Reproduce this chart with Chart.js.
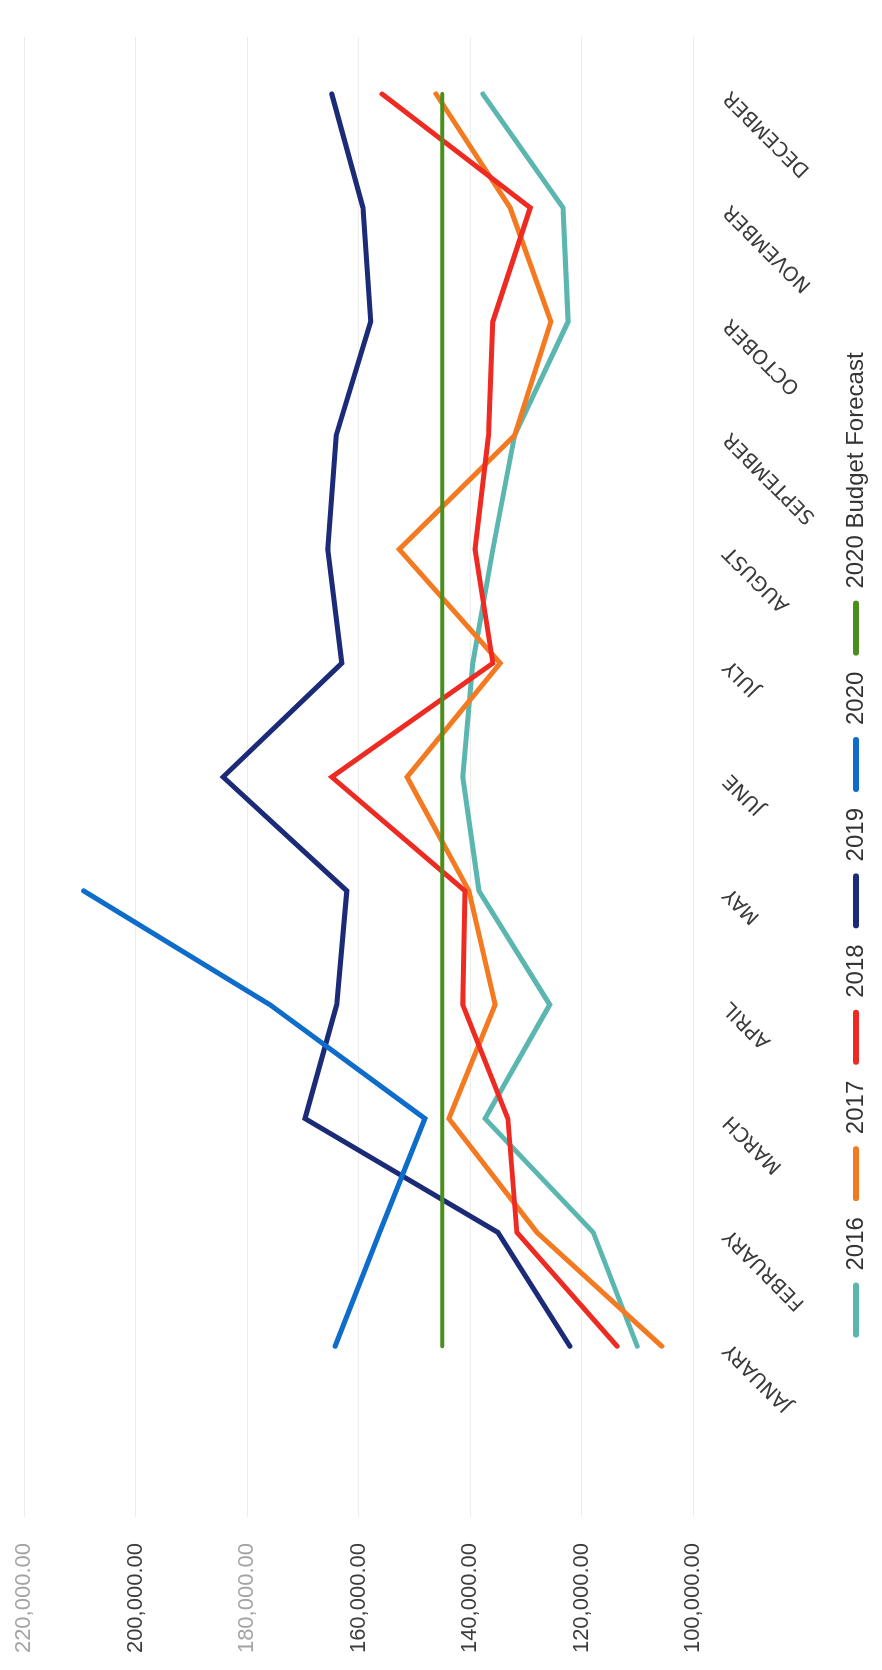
<!DOCTYPE html>
<html>
<head>
<meta charset="utf-8">
<script src="https://cdn.jsdelivr.net/npm/chart.js@4.4.1/dist/chart.umd.min.js"></script>
<style>
  html, body { margin: 0; padding: 0; background: #ffffff; overflow: hidden; }
  body { width: 882px; height: 1670px; position: relative; }
  #wrap {
    position: absolute; left: 0; top: 0;
    width: 1670px; height: 882px;
    transform-origin: 0 0;
    transform: translate(0px, 1670px) rotate(-90deg);
  }
  canvas { display: block; }
</style>
</head>
<body>
<div id="wrap"><canvas id="c" width="1670" height="882"></canvas></div>
<script>
const months = ["JANUARY","FEBRUARY","MARCH","APRIL","MAY","JUNE","JULY","AUGUST","SEPTEMBER","OCTOBER","NOVEMBER","DECEMBER"];
const seriesNames = ["2016","2017","2018","2019","2020","2020 Budget Forecast"];
const values2016 = [110000,117900,137300,125700,138400,141300,139500,135900,132000,122400,123300,137700];
const values2017 = [105600,128000,143800,135500,140200,151300,134600,152700,132000,125500,132800,146100];
const values2018 = [113600,131600,133200,141300,140900,164800,135900,139100,136700,135900,129200,155800];
const values2019 = [122100,135000,169600,163900,162100,184300,163000,165500,164000,157800,159200,164800];
const values2020 = [164200,156200,148100,175900,209300];
const valuesBudget = [145000,145000,145000,145000,145000,145000,145000,145000,145000,145000,145000,145000];
const yTicks = [100000,120000,140000,160000,180000,200000,220000];

const colors = ["#5cb6b0","#f47a22","#ee2b22","#1b2b78","#0e6ccb","#4a8f1c"];
const widths = [5,5,5,5,5,4];
const allValues = [values2016, values2017, values2018, values2019, values2020, valuesBudget];

const toPoints = arr => arr.map((v, i) => ({x: i, y: v}));

const datasets = allValues.map((arr, k) => ({
  label: seriesNames[k],
  data: toPoints(arr),
  borderColor: colors[k],
  backgroundColor: colors[k],
  borderWidth: widths[k],
  pointRadius: 0,
  pointHoverRadius: 0,
  borderCapStyle: 'round',
  borderJoinStyle: 'miter',
  tension: 0,
  fill: false,
  order: 5 - k
}));

const fmt = v => v.toLocaleString('en-US', {minimumFractionDigits: 2, maximumFractionDigits: 2});

new Chart(document.getElementById('c'), {
  type: 'line',
  data: { datasets },
  options: {
    responsive: false,
    animation: false,
    devicePixelRatio: 1,
    layout: { padding: { left: 17, right: 37, top: 24, bottom: 4 } },
    plugins: {
      tooltip: { enabled: false },
      legend: {
        position: 'bottom',
        labels: {
          sort: (a, b) => a.datasetIndex - b.datasetIndex,
          generateLabels: (chart) => Chart.defaults.plugins.legend.labels.generateLabels(chart).map(l => Object.assign(l, {lineWidth: 0, borderRadius: 3})),
          boxWidth: 55,
          boxHeight: 6,
          useBorderRadius: true,
          borderRadius: 3,
          padding: 16,
          color: '#333333',
          font: { family: "'Liberation Sans Narrow', 'Liberation Sans', sans-serif", size: 24 }
        }
      }
    },
    scales: {
      x: {
        type: 'linear',
        min: -1.5,
        max: 11.5,
        grid: { display: false },
        border: { display: false },
        afterBuildTicks: axis => { axis.ticks = months.map((m, i) => ({value: i})); },
        afterFit: axis => { axis.height = 135; },
        ticks: {
          autoSkip: false,
          minRotation: 45,
          maxRotation: 45,
          padding: 18,
          color: '#3a3a3a',
          font: { family: "'DejaVu Sans', sans-serif", size: 20 },
          callback: v => months[v] ?? ''
        }
      },
      y: {
        min: 100000,
        max: 220000,
        grid: { color: '#ececec', lineWidth: 1, drawTicks: true, tickLength: 26, tickColor: 'rgba(0,0,0,0)' },
        border: { display: false },
        afterBuildTicks: axis => { axis.ticks = yTicks.map(v => ({value: v})); },
        afterFit: axis => { axis.width = 136; },
        ticks: {
          padding: 0,
          color: ctx => (ctx.tick && (ctx.tick.value === 220000 || ctx.tick.value === 180000)) ? '#a3a3a3' : '#3c3c3c',
          font: { family: "'Liberation Sans', Arial, sans-serif", size: 22 },
          callback: v => fmt(v)
        }
      }
    }
  }
});
</script>
</body>
</html>
